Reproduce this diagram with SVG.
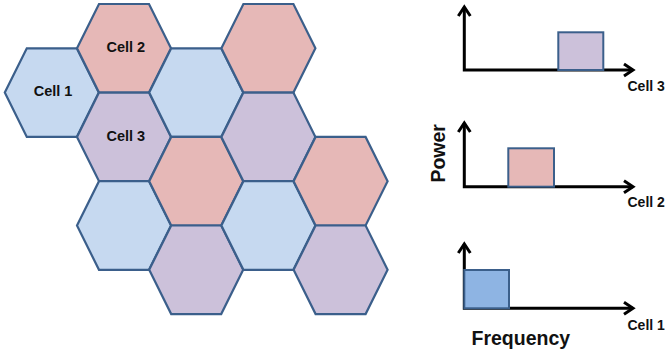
<svg xmlns="http://www.w3.org/2000/svg" width="665" height="358" viewBox="0 0 665 358">
  <style>
    .hex { stroke: #3B5F8B; stroke-width: 2.2; stroke-linejoin: miter; }
    .blue { fill: #C6D9F0; }
    .red { fill: #E6B8B7; }
    .purple { fill: #CCC1DA; }
    .lbl { font-family: "Liberation Sans", Arial, sans-serif; font-weight: bold; font-size: 14.5px; fill: #111; text-anchor: middle; }
    .axlbl { font-family: "Liberation Sans", Arial, sans-serif; font-weight: bold; font-size: 14px; fill: #111; }
    .big { font-family: "Liberation Sans", Arial, sans-serif; font-weight: bold; font-size: 19.5px; fill: #111; text-anchor: middle; }
    .axis { fill: none; stroke: #000; stroke-width: 3; marker-start: url(#arr); marker-end: url(#arr); }
    .bar { stroke: #3B5F8B; stroke-width: 2; }
  </style>
  <defs>
    <polygon id="hexshape" points="-47,0 -25,-44.3 25,-44.3 47,0 25,44.3 -25,44.3"/>
    <marker id="arr" markerUnits="userSpaceOnUse" markerWidth="20" markerHeight="20" refX="0" refY="0" orient="auto-start-reverse" overflow="visible">
      <path d="M-9,-6 L0,0 L-9,6" fill="none" stroke="#000" stroke-width="3"/>
    </marker>
  </defs>

  <g id="hexgrid">
    <g id="hex-cell1"><use href="#hexshape" class="hex blue" x="51.8" y="92.6"/><text class="lbl" x="53" y="96">Cell 1</text></g>
    <g id="hex-cell2"><use href="#hexshape" class="hex red" x="124" y="48.3"/><text class="lbl" x="125.8" y="52">Cell 2</text></g>
    <g id="hex-cell3"><use href="#hexshape" class="hex purple" x="124" y="136.9"/><text class="lbl" x="125.8" y="140.5">Cell 3</text></g>
    <g id="hex-1-3"><use href="#hexshape" class="hex blue" x="124" y="225.5"/></g>
    <g id="hex-2-1"><use href="#hexshape" class="hex blue" x="196.2" y="92.6"/></g>
    <g id="hex-2-2"><use href="#hexshape" class="hex red" x="196.2" y="181.2"/></g>
    <g id="hex-2-3"><use href="#hexshape" class="hex purple" x="196.2" y="269.8"/></g>
    <g id="hex-3-1"><use href="#hexshape" class="hex red" x="268.4" y="48.3"/></g>
    <g id="hex-3-2"><use href="#hexshape" class="hex purple" x="268.4" y="136.9"/></g>
    <g id="hex-3-3"><use href="#hexshape" class="hex blue" x="268.4" y="225.5"/></g>
    <g id="hex-4-1"><use href="#hexshape" class="hex red" x="340.6" y="181.2"/></g>
    <g id="hex-4-2"><use href="#hexshape" class="hex purple" x="340.6" y="269.8"/></g>
  </g>

  <g id="connectors">
    <path class="axis" d="M464.3,7 L464.3,70 L633,70"/>
    <path class="axis" d="M464.3,123 L464.3,186.7 L633,186.7"/>
    <path class="axis" d="M464.3,244 L464.3,308.3 L633,308.3"/>
  </g>

  <g id="chart-cell3">
    <rect class="bar purple" x="558.3" y="32.3" width="45" height="37.7"/>
    <text class="axlbl" x="627.5" y="91">Cell 3</text>
  </g>
  <g id="chart-cell2">
    <rect class="bar red" x="508.3" y="148.3" width="45.7" height="38.4"/>
    <text class="axlbl" x="627.5" y="206.5">Cell 2</text>
  </g>
  <g id="chart-cell1">
    <rect class="bar" fill="#8EB4E3" x="464.3" y="270" width="44.7" height="38.3"/>
    <text class="axlbl" x="627.5" y="330">Cell 1</text>
  </g>
  <g id="axis-labels">
    <text class="big" transform="translate(445,153.3) rotate(-90)">Power</text>
    <text class="big" x="520.8" y="345">Frequency</text>
  </g>
</svg>
